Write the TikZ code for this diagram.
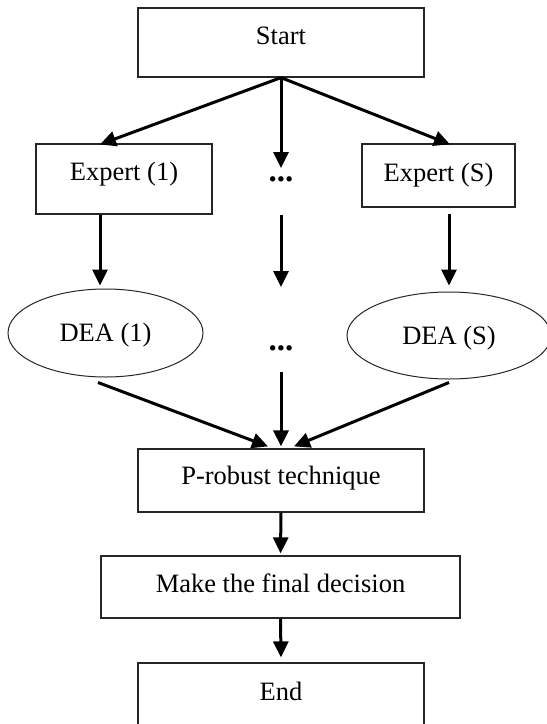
\documentclass[tikz,border=0pt]{standalone}
\usepackage{fontspec}
\setmainfont{Liberation Serif}
\usetikzlibrary{arrows.meta,calc,shapes.geometric}
\begin{document}
\begin{tikzpicture}[x=1pt,y=-1pt,
  every node/.style={font=\fontsize{26.5}{30}\selectfont, inner sep=2pt},
  stepbox/.style={draw=black!85, line width=1.2pt, rectangle, text height=18pt},
  deabox/.style={draw=black!85, line width=1pt, ellipse, inner sep=0pt, text height=18pt, text depth=0.5pt},
  dotsnode/.style={inner sep=0pt, text height=7pt, text depth=0pt, font=\fontsize{33}{36}\selectfont\bfseries},
  arr/.style={line width=3pt, -{Triangle[width=15pt,length=16pt]}}]
\useasboundingbox (0,0) rectangle (547,724);
\clip (0,0) rectangle (547,724);
\node[stepbox, minimum width=286pt, minimum height=69pt, text depth=13.5pt] (start) at (281,42.5) {Start};
\node[stepbox, minimum width=176pt, minimum height=70pt, text depth=15.5pt] (e1) at (124,179) {Expert (1)};
\node[stepbox, minimum width=153pt, minimum height=63pt, text depth=5.5pt] (eS) at (438.5,175.5) {Expert (S)};
\node[dotsnode] (d1) at (281,178) {...};
\node[deabox, minimum width=195pt, minimum height=88pt] (a1) at (105.5,333) {DEA (1)};
\node[deabox, minimum width=204pt, minimum height=87pt] (aS) at (449,335.5) {DEA (S)};
\node[dotsnode] (d2) at (281,347) {...};
\node[stepbox, minimum width=286pt, minimum height=63pt, text depth=10.5pt] (p) at (281,480.5) {P-robust technique};
\node[stepbox, minimum width=359pt, minimum height=62pt, text depth=6.5pt] (m) at (280.5,587) {Make the final decision};
\node[stepbox, minimum width=286pt, minimum height=69pt, text depth=11.5pt] (end) at (281,697.5) {End};
\draw[arr] (start.south) -- ($(e1.north)+(-24,1)$);
\draw[arr] (start.south) -- ($(eS.north)+(11.5,1)$);
\draw[arr] (start.south) -- ($(d1.center)+(0,-10)$);
\draw[arr] ($(e1.south)+(-24,0)$) -- ($(a1.north)+(-5.5,-3)$);
\draw[arr] ($(eS.south)+(10.5,6)$) -- ($(aS.north)+(0,-6)$);
\draw[arr] ($(d1.center)+(0,37)$) -- ($(d2.center)+(0,-60)$);
\draw[arr] ($(a1.south)+(-7.5,5)$) -- ($(p.north)+(-13,-2)$);
\draw[arr] ($(aS.south)+(0,3)$) -- ($(p.north)+(13,-2)$);
\draw[arr] ($(d2.center)+(0,25)$) -- ($(p.north)+(0,-2)$);
\draw[arr] (p.south) -- ($(m.north)+(0,-2)$);
\draw[arr] (m.south) -- ($(end.north)+(0,-5)$);
\end{tikzpicture}
\end{document}
